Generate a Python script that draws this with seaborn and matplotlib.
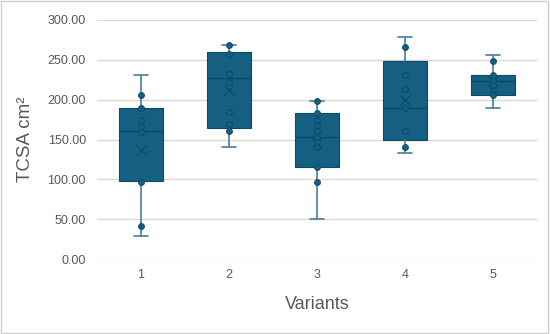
import numpy as np
import pandas as pd
import matplotlib
matplotlib.use("Agg")
import matplotlib.pyplot as plt
import seaborn as sns

# values (TCSA, cm^2)
variants = ['1', '2', '3', '4', '5']
whisker_low = [29, 141, 50, 133, 190]
q1 = [98, 165, 115, 149, 206]
median = [161, 227, 153, 190, 223]
q3 = [190, 260, 183, 249, 231]
whisker_high = [231, 268, 198, 279, 256]
means = [137, 212, 145, 200, 224]

points_1 = [42, 97, 160, 167, 174, 190, 206]
points_2 = [161, 169, 184, 222, 232, 257, 268]
points_3 = [97, 115, 141, 147, 153, 161, 168, 175, 183, 198]
points_4 = [140, 161, 190, 214, 231, 266]
points_5 = [206, 213, 219, 225, 231, 248]
all_points = [points_1, points_2, points_3, points_4, points_5]

box_color = '#156082'
dark_color = '#0c4a66'
whisker_color = '#4a7f99'
text_color = '#595959'

sns.set_theme(style="white")
plt.rcParams['font.family'] = ['Liberation Sans', 'DejaVu Sans']

df = pd.DataFrame({
    'Variants': [v for v, pts in zip(variants, all_points) for _ in pts],
    'TCSA': [p for pts in all_points for p in pts],
})

fig = plt.figure(figsize=(5.5, 3.34), dpi=100)
ax = fig.add_axes([97 / 550, 1 - 259 / 334, 440 / 550, 239 / 334])

# inner points
sns.stripplot(data=df, x='Variants', y='TCSA', order=variants, jitter=False,
              size=4.2, color=box_color, edgecolor=dark_color, linewidth=0.7,
              ax=ax, zorder=4)

# boxes (Excel style summary)
stats = []
for i in range(len(variants)):
    stats.append(dict(whislo=whisker_low[i], q1=q1[i], med=median[i], q3=q3[i],
                      whishi=whisker_high[i], mean=means[i], fliers=[]))
ax.bxp(stats, positions=np.arange(len(variants)), widths=0.5, capwidths=0.17,
       patch_artist=True, showmeans=True, manage_ticks=False, zorder=2,
       boxprops=dict(facecolor=box_color, edgecolor=dark_color, linewidth=0.8),
       medianprops=dict(color=dark_color, linewidth=1.0),
       whiskerprops=dict(color=whisker_color, linewidth=1.2),
       capprops=dict(color=whisker_color, linewidth=1.2),
       meanprops=dict(marker='x', markeredgecolor=dark_color, markersize=7,
                      markeredgewidth=0.8, linestyle='none'))

ax.set_xlim(-0.5, len(variants) - 0.5)
ax.set_ylim(0, 300)
ax.set_yticks(np.arange(0, 301, 50))
ax.set_yticklabels([f'{v:.2f}' for v in np.arange(0, 301, 50)])
ax.set_xticks(np.arange(len(variants)))
ax.set_xticklabels(variants)
ax.tick_params(axis='both', length=0, labelsize=9, labelcolor=text_color)
ax.tick_params(axis='y', pad=8)
ax.tick_params(axis='x', pad=7)

ax.yaxis.grid(True, color='#d9d9d9', linewidth=1.0)
ax.xaxis.grid(False)
ax.set_axisbelow(True)
for s in ax.spines.values():
    s.set_visible(False)

ax.set_ylabel('TCSA cm²', fontsize=13.5, color=text_color)
ax.yaxis.set_label_coords(-0.163, 0.5)
ax.yaxis.label.set_va('center')
ax.set_xlabel('Variants', fontsize=13, color=text_color)
ax.xaxis.set_label_coords(0.5, -0.192)
ax.xaxis.label.set_va('center')

# chart border
fig.patches.append(plt.Rectangle((0.002, 0.003), 0.995, 0.994, transform=fig.transFigure,
                                 fill=False, edgecolor='#d0d0d0', linewidth=1.0))

plt.savefig('out.png', dpi=100)
